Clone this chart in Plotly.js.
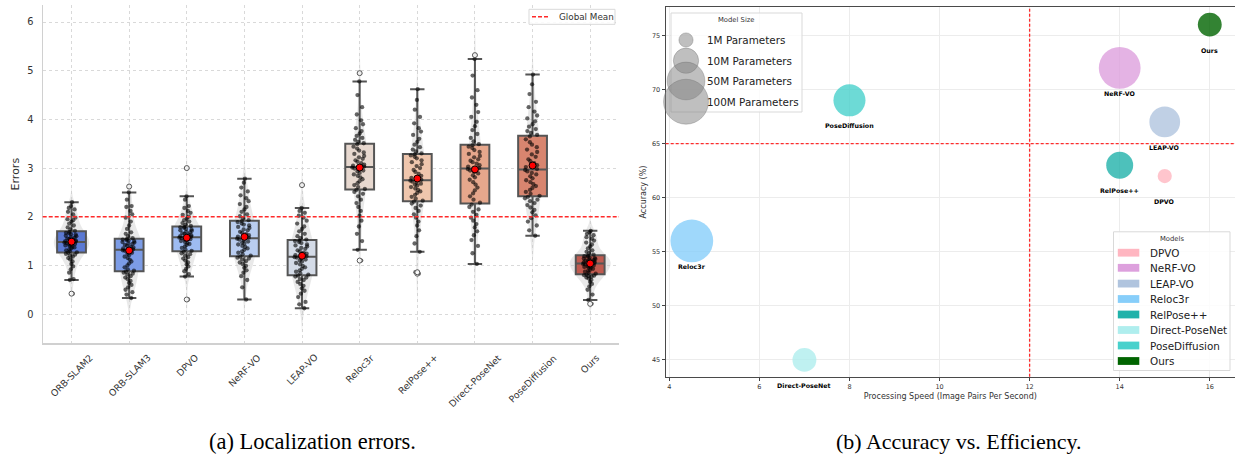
<!DOCTYPE html>
<html>
<head>
<meta charset="utf-8">
<script src="https://cdn.plot.ly/plotly-3.0.1.min.js"></script>
<style>
  html, body { margin: 0; padding: 0; background: #ffffff; }
  #chart { width: 1235px; height: 454px; }
</style>
</head>
<body>
<div id="chart"></div>
<script>
// ---------------- DATA: (a) Localization errors ----------------
const categories = ['ORB-SLAM2', 'ORB-SLAM3', 'DPVO', 'NeRF-VO', 'LEAP-VO',
                    'Reloc3r', 'RelPose++', 'Direct-PoseNet', 'PoseDiffusion', 'Ours'];

const errOrbSlam2 = [0.42, 0.70, 0.72, 0.85, 0.92, 0.98, 1.03, 1.08, 1.12, 1.15, 1.18, 1.20, 1.22, 1.24, 1.26,
  1.27, 1.29, 1.31, 1.33, 1.35, 1.37, 1.38, 1.40, 1.41, 1.42, 1.43, 1.44, 1.45, 1.46, 1.47,
  1.49, 1.50, 1.51, 1.53, 1.54, 1.55, 1.57, 1.58, 1.60, 1.61, 1.63, 1.64, 1.66, 1.67, 1.69,
  1.71, 1.74, 1.78, 1.82, 1.86, 1.90, 1.93, 1.95, 1.98, 2.05, 2.10, 2.15, 2.18, 2.22, 2.30];
const errOrbSlam3 = [0.33, 0.40, 0.45, 0.50, 0.55, 0.60, 0.64, 0.68, 0.72, 0.75, 0.78, 0.81, 0.83, 0.85, 0.87,
  0.89, 0.92, 0.96, 1.00, 1.04, 1.08, 1.12, 1.15, 1.18, 1.21, 1.24, 1.26, 1.28, 1.30, 1.31,
  1.33, 1.35, 1.37, 1.38, 1.40, 1.42, 1.44, 1.45, 1.47, 1.48, 1.50, 1.51, 1.52, 1.53, 1.54,
  1.56, 1.60, 1.65, 1.68, 1.75, 1.82, 1.90, 1.98, 2.05, 2.12, 2.20, 2.22, 2.35, 2.50, 2.62];
const errDpvo = [0.30, 0.77, 0.82, 0.88, 0.93, 0.98, 1.02, 1.06, 1.10, 1.14, 1.17, 1.20, 1.23, 1.25, 1.28,
  1.30, 1.33, 1.36, 1.39, 1.42, 1.44, 1.46, 1.48, 1.50, 1.52, 1.53, 1.54, 1.55, 1.56, 1.57,
  1.59, 1.60, 1.62, 1.63, 1.65, 1.66, 1.68, 1.69, 1.71, 1.72, 1.74, 1.75, 1.77, 1.78, 1.79,
  1.81, 1.84, 1.87, 1.90, 1.93, 1.96, 2.00, 2.04, 2.08, 2.12, 2.18, 2.22, 2.35, 2.42, 3.00];
const errNerfVo = [0.30, 0.55, 0.70, 0.78, 0.85, 0.90, 0.95, 0.99, 1.03, 1.06, 1.09, 1.12, 1.14, 1.16, 1.18,
  1.20, 1.23, 1.26, 1.29, 1.32, 1.35, 1.38, 1.40, 1.43, 1.45, 1.47, 1.49, 1.51, 1.53, 1.55,
  1.57, 1.59, 1.62, 1.64, 1.67, 1.69, 1.72, 1.74, 1.77, 1.79, 1.82, 1.84, 1.86, 1.89, 1.91,
  1.93, 1.97, 2.01, 2.05, 2.10, 2.15, 2.20, 2.26, 2.32, 2.38, 2.44, 2.52, 2.60, 2.70, 2.78];
const errLeapVo = [0.12, 0.20, 0.25, 0.35, 0.42, 0.48, 0.53, 0.58, 0.62, 0.66, 0.70, 0.72, 0.75, 0.77, 0.79,
  0.81, 0.84, 0.87, 0.90, 0.93, 0.96, 0.99, 1.02, 1.05, 1.08, 1.10, 1.12, 1.14, 1.16, 1.17,
  1.19, 1.21, 1.24, 1.26, 1.29, 1.31, 1.34, 1.36, 1.39, 1.41, 1.43, 1.46, 1.48, 1.50, 1.51,
  1.53, 1.56, 1.60, 1.65, 1.70, 1.75, 1.80, 1.86, 1.92, 1.98, 2.02, 2.08, 2.12, 2.18, 2.65];
const errReloc3r = [1.10, 1.32, 1.50, 1.65, 1.80, 1.92, 2.02, 2.12, 2.20, 2.28, 2.35, 2.42, 2.47, 2.51, 2.55,
  2.57, 2.61, 2.65, 2.69, 2.73, 2.77, 2.81, 2.84, 2.87, 2.90, 2.93, 2.95, 2.97, 2.99, 3.01,
  3.03, 3.05, 3.07, 3.10, 3.13, 3.16, 3.19, 3.22, 3.25, 3.29, 3.32, 3.36, 3.40, 3.44, 3.49,
  3.51, 3.54, 3.58, 3.62, 3.66, 3.71, 3.76, 3.82, 3.90, 3.98, 4.10, 4.25, 4.50, 4.78, 4.95];
const errRelPose = [0.83, 0.86, 1.28, 1.45, 1.60, 1.72, 1.82, 1.90, 1.98, 2.05, 2.12, 2.18, 2.23, 2.27, 2.31,
  2.33, 2.37, 2.41, 2.45, 2.49, 2.52, 2.55, 2.58, 2.61, 2.64, 2.66, 2.68, 2.70, 2.72, 2.74,
  2.76, 2.80, 2.84, 2.88, 2.92, 2.96, 3.00, 3.04, 3.08, 3.12, 3.16, 3.20, 3.23, 3.26, 3.28,
  3.30, 3.34, 3.38, 3.43, 3.48, 3.54, 3.60, 3.68, 3.75, 3.82, 3.92, 4.05, 4.20, 4.40, 4.62];
const errDirectPoseNet = [1.03, 1.25, 1.40, 1.52, 1.62, 1.70, 1.78, 1.85, 1.92, 1.98, 2.04, 2.10, 2.15, 2.20, 2.25,
  2.29, 2.35, 2.42, 2.48, 2.54, 2.60, 2.66, 2.71, 2.76, 2.81, 2.85, 2.89, 2.92, 2.95, 2.98,
  3.00, 3.03, 3.06, 3.09, 3.12, 3.15, 3.18, 3.22, 3.25, 3.29, 3.33, 3.37, 3.41, 3.44, 3.47,
  3.49, 3.55, 3.62, 3.70, 3.78, 3.86, 3.95, 4.05, 4.15, 4.30, 4.45, 4.60, 4.90, 5.24, 5.32];
const errPoseDiffusion = [1.61, 1.72, 1.82, 1.90, 1.97, 2.03, 2.09, 2.14, 2.19, 2.24, 2.28, 2.32, 2.35, 2.38, 2.41,
  2.43, 2.47, 2.51, 2.55, 2.59, 2.63, 2.67, 2.71, 2.75, 2.79, 2.83, 2.87, 2.90, 2.93, 2.96,
  2.98, 3.02, 3.06, 3.10, 3.14, 3.18, 3.23, 3.28, 3.33, 3.38, 3.43, 3.48, 3.53, 3.59, 3.65,
  3.68, 3.72, 3.76, 3.80, 3.85, 3.90, 3.96, 4.02, 4.08, 4.16, 4.25, 4.36, 4.52, 4.72, 4.92];
const errOurs = [0.21, 0.29, 0.40, 0.50, 0.57, 0.62, 0.66, 0.70, 0.73, 0.75, 0.77, 0.78, 0.79, 0.80, 0.81,
  0.83, 0.85, 0.87, 0.89, 0.91, 0.93, 0.95, 0.96, 0.97, 0.98, 0.99, 1.00, 1.01, 1.02, 1.03,
  1.05, 1.06, 1.07, 1.08, 1.09, 1.10, 1.11, 1.12, 1.13, 1.14, 1.15, 1.16, 1.18, 1.19, 1.20,
  1.22, 1.25, 1.28, 1.31, 1.35, 1.39, 1.43, 1.47, 1.51, 1.55, 1.58, 1.62, 1.65, 1.68, 1.71];

const yTicksErr = [0, 1, 2, 3, 4, 5, 6];

// ---------------- DATA: (b) Accuracy vs. Efficiency ----------------
const models = ['DPVO', 'NeRF-VO', 'LEAP-VO', 'Reloc3r', 'RelPose++', 'Direct-PoseNet', 'PoseDiffusion', 'Ours'];
const speed = [15, 14, 15, 4.5, 14, 7, 8, 16];           // image pairs per second
const accuracy = [62, 72, 67, 56, 63, 45, 69, 76];       // %
const paramsM = [1, 75, 22, 82, 13, 8, 26, 8];           // model size, millions of parameters
const sizeLegendParams = [1, 10, 50, 100];
const sizeLegendLabels = ['1M Parameters', '10M Parameters', '50M Parameters', '100M Parameters'];
const speedThreshold = 12;
const accuracyThreshold = 65;
const xTicksSpeed = [4, 6, 8, 10, 12, 14, 16];
const yTicksAcc = [45, 50, 55, 60, 65, 70, 75];

// ---------------- STYLE ----------------
const W = 1235, H = 454;
const px = x => x / W;
const py = y => 1 - y / H;
const FONT = 'DejaVu Sans, Liberation Sans, sans-serif';
const SERIF = '"Liberation Serif", "Times New Roman", Times, "DejaVu Serif", serif';
const boxColors = ['#5b79d3', '#7c9ce6', '#9ebcf2', '#b9cdf0', '#d4dbe7',
                   '#e7d8cf', '#efc6ad', '#e6a78c', '#d8856f', '#bf5a4f'];
const modelColors = ['#ffb6c1', '#dda0dd', '#b0c4de', '#87cefa', '#20b2aa', '#afeeee', '#48d1cc', '#006400'];
const bubbleDiameter = p => 14.2 * Math.pow(p, 0.25);   // marker size scale (px)

const errorData = [errOrbSlam2, errOrbSlam3, errDpvo, errNerfVo, errLeapVo,
                   errReloc3r, errRelPose, errDirectPoseNet, errPoseDiffusion, errOurs];

function quantile(sorted, q) {
  const pos = (sorted.length - 1) * q;
  const lo = Math.floor(pos), hi = Math.ceil(pos);
  return sorted[lo] + (sorted[hi] - sorted[lo]) * (pos - lo);
}
const mean = d => d.reduce((a, b) => a + b, 0) / d.length;
const std = d => { const m = mean(d); return Math.sqrt(d.reduce((a, b) => a + (b - m) * (b - m), 0) / d.length); };
const means = errorData.map(mean);
const globalMean = mean(errorData.flat());

const traces = [];
// violins (background) – equal-area style: width inversely proportional to spread
errorData.forEach((d, i) => {
  const w = Math.max(0.22, Math.min(0.8, 0.235 / std(d)));
  traces.push({
    type: 'violin', y: d, x0: i, xaxis: 'x', yaxis: 'y', width: w,
    fillcolor: 'rgba(200,200,200,0.4)', line: { width: 0, color: 'rgba(0,0,0,0)' },
    points: false, box: { visible: false }, meanline: { visible: false },
    spanmode: 'soft', showlegend: false, hoverinfo: 'skip'
  });
});
// boxes + jittered points
errorData.forEach((d, i) => {
  traces.push({
    type: 'box', y: d, x0: i, xaxis: 'x', yaxis: 'y', width: 0.5,
    fillcolor: boxColors[i], line: { color: '#555555', width: 2 },
    whiskerwidth: 0.5, boxpoints: 'all', jitter: 0.55, pointpos: 0,
    marker: { color: '#000000', opacity: 0.6, size: 4.3, line: { width: 0 } },
    showlegend: false, hoverinfo: 'skip'
  });
});
// outliers (hollow) at centre
const outX = [], outY = [];
errorData.forEach((d, i) => {
  const s = [...d].sort((a, b) => a - b);
  const q1 = quantile(s, 0.25), q3 = quantile(s, 0.75), iqr = q3 - q1;
  s.forEach(v => { if (v < q1 - 1.5 * iqr || v > q3 + 1.5 * iqr) { outX.push(i); outY.push(v); } });
});
traces.push({
  type: 'scatter', mode: 'markers', x: outX, y: outY, xaxis: 'x', yaxis: 'y',
  marker: { color: 'rgba(255,255,255,0.9)', size: 5, line: { color: '#555555', width: 1 } },
  showlegend: false, hoverinfo: 'skip'
});
// means
traces.push({
  type: 'scatter', mode: 'markers', x: categories.map((c, i) => i), y: means, xaxis: 'x', yaxis: 'y',
  marker: { color: '#ff0000', size: 7, line: { color: '#000000', width: 1 } },
  showlegend: false, hoverinfo: 'skip'
});
// bubbles
traces.push({
  type: 'scatter', mode: 'markers', x: speed, y: accuracy, xaxis: 'x2', yaxis: 'y2',
  marker: { color: modelColors, size: paramsM.map(bubbleDiameter), sizemode: 'diameter',
            opacity: 0.8, line: { width: 0 } },
  showlegend: false, hoverinfo: 'skip'
});

const shapes = [];
const annotations = [];

// global mean line
shapes.push({ type: 'line', xref: 'x domain', yref: 'y', x0: 0, x1: 1, y0: globalMean, y1: globalMean,
  line: { color: '#ff2a2a', width: 1.4, dash: '4px,2px' }, layer: 'above' });
// global mean legend
shapes.push({ type: 'rect', xref: 'paper', yref: 'paper', x0: px(529), x1: px(615), y0: py(24.3), y1: py(9.3),
  fillcolor: 'rgba(255,255,255,0.85)', line: { color: '#d9d9d9', width: 1 } });
shapes.push({ type: 'line', xref: 'paper', yref: 'paper', x0: px(532), x1: px(548), y0: py(16.8), y1: py(16.8),
  line: { color: '#ff2a2a', width: 1.4, dash: '4px,2px' } });
annotations.push({ xref: 'paper', yref: 'paper', x: px(556.5), y: py(16.8), xanchor: 'left', yanchor: 'middle',
  text: 'Global Mean', showarrow: false, font: { family: FONT, size: 8.8, color: '#333333' } });

// category tick labels (rotated, centred on tick)
categories.forEach((c, i) => {
  annotations.push({ xref: 'x', yref: 'paper', x: i, y: py(343.3), yshift: -6, xanchor: 'center', yanchor: 'top',
    text: c, textangle: -45, showarrow: false, font: { family: FONT, size: 9.3, color: '#333333' } });
});

// threshold lines on (b)
shapes.push({ type: 'line', xref: 'x2', yref: 'y2 domain', x0: speedThreshold, x1: speedThreshold, y0: 0, y1: 1,
  line: { color: '#ff2a2a', width: 1.3, dash: '3px,2px' }, layer: 'above' });
shapes.push({ type: 'line', xref: 'x2 domain', yref: 'y2', x0: 0, x1: 1, y0: accuracyThreshold, y1: accuracyThreshold,
  line: { color: '#ff2a2a', width: 1.3, dash: '3px,2px' }, layer: 'above' });

// bubble labels
models.forEach((m, i) => {
  annotations.push({ xref: 'x2', yref: 'y2', x: speed[i], y: accuracy[i], yshift: -25.5,
    text: '<b>' + m + '</b>', showarrow: false, xanchor: 'center', yanchor: 'middle',
    font: { family: FONT, size: 6.3, color: '#000000' } });
});

// Model Size legend
shapes.push({ type: 'rect', xref: 'paper', yref: 'paper', x0: px(671), x1: px(802), y0: py(112), y1: py(13),
  fillcolor: 'rgba(255,255,255,0.8)', line: { color: '#d9d9d9', width: 1 } });
annotations.push({ xref: 'paper', yref: 'paper', x: px(736.5), y: py(20), xanchor: 'center', yanchor: 'middle',
  text: 'Model Size', showarrow: false, font: { family: FONT, size: 6.8, color: '#333333' } });
const sizeLegendY = [40, 60.7, 81, 101.7];
sizeLegendParams.forEach((p, k) => {
  const r = bubbleDiameter(p) / 2;
  shapes.push({ type: 'circle', xref: 'paper', yref: 'paper', xsizemode: 'pixel', ysizemode: 'pixel',
    xanchor: px(686), yanchor: py(sizeLegendY[k]), x0: -r, x1: r, y0: -r, y1: r,
    fillcolor: 'rgba(128,128,128,0.5)', line: { color: 'rgba(110,110,110,0.6)', width: 0.6 } });
  annotations.push({ xref: 'paper', yref: 'paper', x: px(705), y: py(sizeLegendY[k]), xanchor: 'left', yanchor: 'middle',
    text: sizeLegendLabels[k], showarrow: false, font: { family: FONT, size: 10.4, color: '#222222' } });
});

// Models legend
shapes.push({ type: 'rect', xref: 'paper', yref: 'paper', x0: px(1113.5), x1: px(1230), y0: py(370.5), y1: py(231.8),
  fillcolor: 'rgba(255,255,255,0.85)', line: { color: '#d9d9d9', width: 1 } });
annotations.push({ xref: 'paper', yref: 'paper', x: px(1171.7), y: py(239.3), xanchor: 'center', yanchor: 'middle',
  text: 'Models', showarrow: false, font: { family: FONT, size: 6.8, color: '#333333' } });
const modelsLegendY = [252.7, 267.8, 283.6, 299, 314.5, 330, 345.5, 361];
models.forEach((m, k) => {
  shapes.push({ type: 'rect', xref: 'paper', yref: 'paper', x0: px(1117.8), x1: px(1139.3),
    y0: py(modelsLegendY[k] + 3.9), y1: py(modelsLegendY[k] - 3.9),
    fillcolor: modelColors[k], line: { width: 0 } });
  annotations.push({ xref: 'paper', yref: 'paper', x: px(1148.3), y: py(modelsLegendY[k]), xanchor: 'left', yanchor: 'middle',
    text: m, showarrow: false, font: { family: FONT, size: 10.4, color: '#222222' } });
});

// captions
annotations.push({ xref: 'paper', yref: 'paper', x: px(312), y: py(441), xanchor: 'center', yanchor: 'middle',
  text: '(a) Localization errors.', showarrow: false, font: { family: SERIF, size: 22.5, color: '#000000' } });
annotations.push({ xref: 'paper', yref: 'paper', x: px(959), y: py(441), xanchor: 'center', yanchor: 'middle',
  text: '(b) Accuracy vs. Efficiency.', showarrow: false, font: { family: SERIF, size: 22, color: '#000000' } });

const layout = {
  width: W, height: H,
  margin: { l: 0, r: 0, t: 0, b: 0, pad: 0 },
  paper_bgcolor: '#ffffff', plot_bgcolor: '#ffffff',
  font: { family: FONT, color: '#333333' },
  showlegend: false,
  boxmode: 'overlay', violinmode: 'overlay',
  xaxis: {
    domain: [px(42.7), px(619)], range: [-0.5, 9.5], anchor: 'y',
    tickvals: categories.map((c, i) => i), showticklabels: false, ticks: '',
    showgrid: true, gridcolor: '#cfcfcf', griddash: 'dot', gridwidth: 0.8,
    zeroline: false, showline: true, linecolor: '#d0d0d0', linewidth: 1.2, fixedrange: true
  },
  yaxis: {
    domain: [py(343.3), py(5)], range: [-0.6, 6.35], anchor: 'x',
    tickvals: yTicksErr, ticks: '', ticklabelstandoff: 6,
    tickfont: { family: FONT, size: 9.8, color: '#333333' },
    showgrid: true, gridcolor: '#cfcfcf', griddash: 'dot', gridwidth: 0.8,
    zeroline: false, showline: true, linecolor: '#d0d0d0', linewidth: 1.2,
    title: { text: 'Errors', font: { family: FONT, size: 11, color: '#333333' }, standoff: 5 },
    automargin: false, fixedrange: true
  },
  xaxis2: {
    domain: [px(665.7), 1], range: [3.92, 16.56], anchor: 'y2',
    tickvals: xTicksSpeed, ticks: 'outside', ticklen: 3, tickwidth: 1, tickcolor: '#444444',
    tickfont: { family: FONT, size: 6.5, color: '#333333' },
    showgrid: true, gridcolor: '#ececec', gridwidth: 1,
    zeroline: false, showline: true, mirror: true, linecolor: '#4a4a4a', linewidth: 1.2,
    title: { text: 'Processing Speed (Image Pairs Per Second)', font: { family: FONT, size: 8, color: '#333333' }, standoff: 3 },
    automargin: false, fixedrange: true
  },
  yaxis2: {
    domain: [py(376.7), py(7.3)], range: [43.45, 77.6], anchor: 'x2',
    tickvals: yTicksAcc, ticks: 'outside', ticklen: 3, tickwidth: 1, tickcolor: '#444444',
    tickfont: { family: FONT, size: 6.5, color: '#333333' },
    showgrid: true, gridcolor: '#ececec', gridwidth: 1,
    zeroline: false, showline: true, linecolor: '#4a4a4a', linewidth: 1.2,
    title: { text: 'Accuracy (%)', font: { family: FONT, size: 8, color: '#333333' }, standoff: 4 },
    automargin: false, fixedrange: true
  },
  shapes: shapes,
  annotations: annotations
};

Plotly.newPlot('chart', traces, layout, { displayModeBar: false, staticPlot: true });
</script>
</body>
</html>
